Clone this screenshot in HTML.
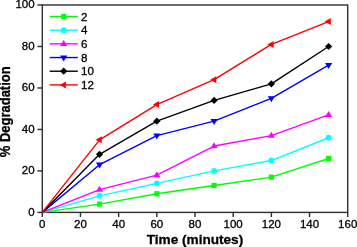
<!DOCTYPE html><html><head><meta charset="utf-8"><title>Degradation chart</title><style>html,body{margin:0;padding:0;background:#fff}svg{display:block}text{font-family:"Liberation Sans",Arial,sans-serif;fill:#000;stroke:#000;stroke-width:0.3px}</style></head><body>
<svg width="357" height="247" viewBox="0 0 357 247">
<rect width="357" height="247" fill="#fff"/>
<rect x="42.3" y="5.0" width="305.40" height="207.40" fill="none" stroke="#333333" stroke-width="1.45"/>
<line x1="42.30" y1="212.4" x2="42.30" y2="217.0" stroke="#333333" stroke-width="1.45"/>
<text x="42.30" y="228.2" font-size="11.5" text-anchor="middle">0</text>
<line x1="80.47" y1="212.4" x2="80.47" y2="217.0" stroke="#333333" stroke-width="1.45"/>
<text x="80.47" y="228.2" font-size="11.5" text-anchor="middle">20</text>
<line x1="118.65" y1="212.4" x2="118.65" y2="217.0" stroke="#333333" stroke-width="1.45"/>
<text x="118.65" y="228.2" font-size="11.5" text-anchor="middle">40</text>
<line x1="156.82" y1="212.4" x2="156.82" y2="217.0" stroke="#333333" stroke-width="1.45"/>
<text x="156.82" y="228.2" font-size="11.5" text-anchor="middle">60</text>
<line x1="195.00" y1="212.4" x2="195.00" y2="217.0" stroke="#333333" stroke-width="1.45"/>
<text x="195.00" y="228.2" font-size="11.5" text-anchor="middle">80</text>
<line x1="233.17" y1="212.4" x2="233.17" y2="217.0" stroke="#333333" stroke-width="1.45"/>
<text x="233.17" y="228.2" font-size="11.5" text-anchor="middle">100</text>
<line x1="271.35" y1="212.4" x2="271.35" y2="217.0" stroke="#333333" stroke-width="1.45"/>
<text x="271.35" y="228.2" font-size="11.5" text-anchor="middle">120</text>
<line x1="309.53" y1="212.4" x2="309.53" y2="217.0" stroke="#333333" stroke-width="1.45"/>
<text x="309.53" y="228.2" font-size="11.5" text-anchor="middle">140</text>
<line x1="347.70" y1="212.4" x2="347.70" y2="217.0" stroke="#333333" stroke-width="1.45"/>
<text x="347.70" y="228.2" font-size="11.5" text-anchor="middle">160</text>
<line x1="37.4" y1="212.40" x2="42.3" y2="212.40" stroke="#333333" stroke-width="1.45"/>
<text x="34.6" y="215.70" font-size="11.5" text-anchor="end">0</text>
<line x1="37.4" y1="170.92" x2="42.3" y2="170.92" stroke="#333333" stroke-width="1.45"/>
<text x="34.6" y="174.22" font-size="11.5" text-anchor="end">20</text>
<line x1="37.4" y1="129.44" x2="42.3" y2="129.44" stroke="#333333" stroke-width="1.45"/>
<text x="34.6" y="132.74" font-size="11.5" text-anchor="end">40</text>
<line x1="37.4" y1="87.96" x2="42.3" y2="87.96" stroke="#333333" stroke-width="1.45"/>
<text x="34.6" y="91.26" font-size="11.5" text-anchor="end">60</text>
<line x1="37.4" y1="46.48" x2="42.3" y2="46.48" stroke="#333333" stroke-width="1.45"/>
<text x="34.6" y="49.78" font-size="11.5" text-anchor="end">80</text>
<line x1="37.4" y1="5.00" x2="42.3" y2="5.00" stroke="#333333" stroke-width="1.45"/>
<text x="34.6" y="8.30" font-size="11.5" text-anchor="end">100</text>
<polyline points="42.30,212.40 99.56,204.10 156.82,193.73 214.09,185.44 271.35,177.14 328.61,158.48" fill="none" stroke="#00ff00" stroke-width="1.4" stroke-linejoin="round"/>
<rect x="96.96" y="201.50" width="5.2" height="5.2" fill="#00ff00"/>
<rect x="154.22" y="191.13" width="5.2" height="5.2" fill="#00ff00"/>
<rect x="211.49" y="182.84" width="5.2" height="5.2" fill="#00ff00"/>
<rect x="268.75" y="174.54" width="5.2" height="5.2" fill="#00ff00"/>
<rect x="326.01" y="155.88" width="5.2" height="5.2" fill="#00ff00"/>
<polyline points="42.30,212.40 99.56,195.81 156.82,183.36 214.09,170.92 271.35,160.55 328.61,137.74" fill="none" stroke="#00ffff" stroke-width="1.4" stroke-linejoin="round"/>
<circle cx="99.56" cy="195.81" r="2.95" fill="#00ffff"/>
<circle cx="156.82" cy="183.36" r="2.95" fill="#00ffff"/>
<circle cx="214.09" cy="170.92" r="2.95" fill="#00ffff"/>
<circle cx="271.35" cy="160.55" r="2.95" fill="#00ffff"/>
<circle cx="328.61" cy="137.74" r="2.95" fill="#00ffff"/>
<polyline points="42.30,212.40 99.56,189.59 156.82,175.07 214.09,146.03 271.35,135.66 328.61,114.92" fill="none" stroke="#ff00ff" stroke-width="1.4" stroke-linejoin="round"/>
<polygon points="99.56,185.69 95.96,191.69 103.16,191.69" fill="#ff00ff"/>
<polygon points="156.82,171.17 153.22,177.17 160.42,177.17" fill="#ff00ff"/>
<polygon points="214.09,142.13 210.49,148.13 217.69,148.13" fill="#ff00ff"/>
<polygon points="271.35,131.76 267.75,137.76 274.95,137.76" fill="#ff00ff"/>
<polygon points="328.61,111.02 325.01,117.02 332.21,117.02" fill="#ff00ff"/>
<polyline points="42.30,212.40 99.56,164.70 156.82,135.66 214.09,121.14 271.35,98.33 328.61,65.15" fill="none" stroke="#0000ff" stroke-width="1.4" stroke-linejoin="round"/>
<polygon points="99.56,168.60 95.96,162.60 103.16,162.60" fill="#0000ff"/>
<polygon points="156.82,139.56 153.22,133.56 160.42,133.56" fill="#0000ff"/>
<polygon points="214.09,125.04 210.49,119.04 217.69,119.04" fill="#0000ff"/>
<polygon points="271.35,102.23 267.75,96.23 274.95,96.23" fill="#0000ff"/>
<polygon points="328.61,69.05 325.01,63.05 332.21,63.05" fill="#0000ff"/>
<polyline points="42.30,212.40 99.56,154.33 156.82,121.14 214.09,100.40 271.35,83.81 328.61,46.48" fill="none" stroke="#000000" stroke-width="1.4" stroke-linejoin="round"/>
<polygon points="99.56,150.73 95.96,154.33 99.56,157.93 103.16,154.33" fill="#000000"/>
<polygon points="156.82,117.54 153.22,121.14 156.82,124.74 160.42,121.14" fill="#000000"/>
<polygon points="214.09,96.80 210.49,100.40 214.09,104.00 217.69,100.40" fill="#000000"/>
<polygon points="271.35,80.21 267.75,83.81 271.35,87.41 274.95,83.81" fill="#000000"/>
<polygon points="328.61,42.88 325.01,46.48 328.61,50.08 332.21,46.48" fill="#000000"/>
<polyline points="42.30,212.40 99.56,139.81 156.82,104.55 214.09,79.66 271.35,44.41 328.61,21.59" fill="none" stroke="#ff0000" stroke-width="1.4" stroke-linejoin="round"/>
<polygon points="95.66,139.81 101.76,136.31 101.76,143.31" fill="#ff0000"/>
<polygon points="152.92,104.55 159.02,101.05 159.02,108.05" fill="#ff0000"/>
<polygon points="210.19,79.66 216.29,76.16 216.29,83.16" fill="#ff0000"/>
<polygon points="267.45,44.41 273.55,40.91 273.55,47.91" fill="#ff0000"/>
<polygon points="324.71,21.59 330.81,18.09 330.81,25.09" fill="#ff0000"/>
<line x1="49.7" y1="16.50" x2="77.8" y2="16.50" stroke="#00ff00" stroke-width="1.4"/>
<rect x="61.10" y="13.90" width="5.2" height="5.2" fill="#00ff00"/>
<text x="81" y="20.65" font-size="11.6">2</text>
<line x1="49.7" y1="30.18" x2="77.8" y2="30.18" stroke="#00ffff" stroke-width="1.4"/>
<circle cx="63.70" cy="30.18" r="2.95" fill="#00ffff"/>
<text x="81" y="34.33" font-size="11.6">4</text>
<line x1="49.7" y1="43.86" x2="77.8" y2="43.86" stroke="#ff00ff" stroke-width="1.4"/>
<polygon points="63.70,39.96 60.10,45.96 67.30,45.96" fill="#ff00ff"/>
<text x="81" y="48.01" font-size="11.6">6</text>
<line x1="49.7" y1="57.54" x2="77.8" y2="57.54" stroke="#0000ff" stroke-width="1.4"/>
<polygon points="63.70,61.44 60.10,55.44 67.30,55.44" fill="#0000ff"/>
<text x="81" y="61.69" font-size="11.6">8</text>
<line x1="49.7" y1="71.22" x2="77.8" y2="71.22" stroke="#000000" stroke-width="1.4"/>
<polygon points="63.70,67.62 60.10,71.22 63.70,74.82 67.30,71.22" fill="#000000"/>
<text x="81" y="75.37" font-size="11.6">10</text>
<line x1="49.7" y1="84.90" x2="77.8" y2="84.90" stroke="#ff0000" stroke-width="1.4"/>
<polygon points="59.80,84.90 65.90,81.40 65.90,88.40" fill="#ff0000"/>
<text x="81" y="89.05" font-size="11.6">12</text>
<text x="195" y="244.1" font-size="13.6" font-weight="bold" text-anchor="middle">Time (minutes)</text>
<text transform="translate(10.1,111.8) rotate(-90) scale(1,1.09)" font-size="13.0" font-weight="bold" text-anchor="middle">% Degradation</text>
</svg></body></html>
